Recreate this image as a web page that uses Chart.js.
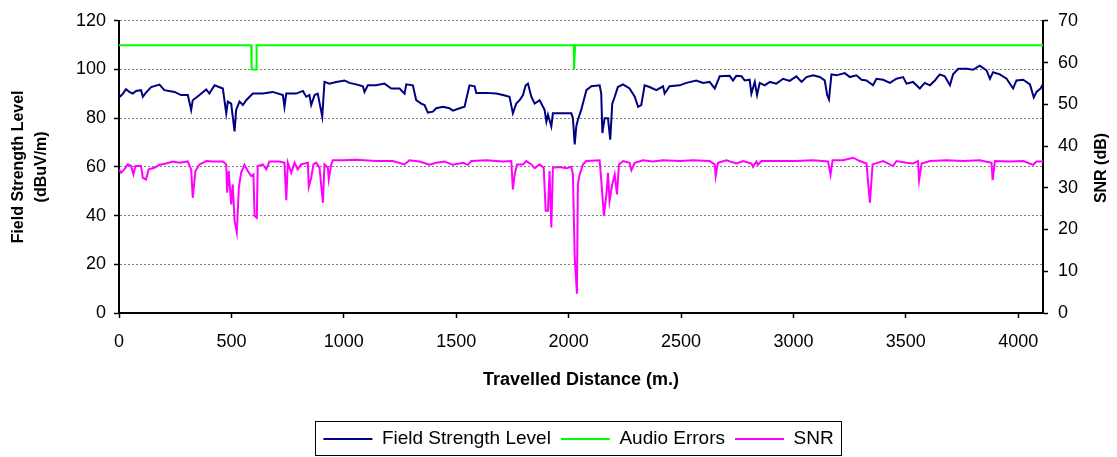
<!DOCTYPE html>
<html>
<head>
<meta charset="utf-8">
<script src="https://cdn.jsdelivr.net/npm/chart.js@4/dist/chart.umd.min.js"></script>
<style>
  html, body { margin: 0; padding: 0; background: #fff; }
</style>
</head>
<body>
<canvas id="myChart" width="1117" height="457"></canvas>
<script>
// distances in metres
var fsDist = [0, 17, 31, 46, 61, 76, 98, 106, 120, 143, 180, 202, 247, 276, 306, 321, 328, 358, 388, 402,
  425, 462, 477, 484, 499, 514, 521, 536, 551, 566, 595, 640, 684, 729, 736, 744, 788, 818, 833, 847,
  855, 870, 884, 904, 914, 936, 966, 1003, 1025, 1055, 1085, 1092, 1107, 1144, 1181, 1211, 1248, 1270, 1278, 1307,
  1322, 1344, 1359, 1374, 1396, 1411, 1441, 1470, 1485, 1515, 1537, 1559, 1582, 1589, 1634, 1678, 1708, 1737, 1752, 1767,
  1782, 1797, 1809, 1819, 1834, 1849, 1871, 1893, 1901, 1908, 1923, 1930, 1960, 2012, 2019, 2027, 2034, 2041, 2056, 2079,
  2101, 2138, 2145, 2150, 2160, 2175, 2185, 2194, 2205, 2219, 2242, 2271, 2294, 2309, 2323, 2338, 2360, 2390, 2420, 2427,
  2449, 2494, 2524, 2568, 2598, 2627, 2650, 2672, 2716, 2731, 2746, 2769, 2783, 2805, 2813, 2828, 2838, 2850, 2872, 2895,
  2924, 2954, 2983, 3013, 3036, 3058, 3087, 3117, 3139, 3150, 3158, 3169, 3191, 3228, 3251, 3280, 3303, 3325, 3354, 3369,
  3399, 3429, 3458, 3488, 3503, 3532, 3562, 3584, 3607, 3629, 3651, 3673, 3696, 3710, 3733, 3770, 3799, 3829, 3859, 3874,
  3888, 3918, 3948, 3977, 3992, 4022, 4052, 4069, 4081, 4099, 4110];
var fsLevel = [88.5, 90, 91.9, 90.8, 90.1, 91.2, 91.5, 88.8, 90.5, 92.8, 93.8, 91.5, 90.8, 89.5, 89.5, 83.4, 87.4, 89.5, 91.8, 90.1,
  93.5, 92.2, 82, 86.8, 86, 74.6, 83.4, 86.8, 85.4, 87.4, 90.1, 90.1, 90.8, 89.5, 84.7, 90.1, 90.1, 91.2, 88.8, 89.5,
  85.4, 89.5, 90.1, 80.7, 94.9, 94.2, 94.9, 95.5, 94.5, 93.9, 93.1, 90.8, 93.5, 93.5, 94.2, 92.2, 92.2, 90.1, 93.9, 93.5,
  87.4, 86, 85.4, 82.3, 82.7, 84.1, 84.7, 84.1, 83.1, 84.1, 84.7, 93.5, 93.1, 90.4, 90.4, 90.1, 89.5, 88.8, 82, 86,
  87.4, 89.5, 93.5, 94.2, 88.8, 86, 87.4, 83.4, 78.6, 81.4, 76.6, 82, 82, 82, 80, 69.2, 76.6, 79.3, 83.4, 91.5,
  93.1, 93.5, 90.1, 73.9, 80, 80, 71.2, 86, 88.8, 92.8, 93.9, 92.2, 88.8, 84.7, 85.4, 93.5, 92.8, 91.5, 93.1, 90.1,
  93.1, 93.5, 94.5, 95.5, 94.5, 94.9, 92.2, 97.2, 97.4, 95.5, 97.4, 97.2, 95.5, 95.8, 90.1, 94.9, 89.5, 94.5, 93.5, 94.9,
  94.2, 96.2, 95.3, 97.2, 94.9, 96.9, 97.6, 96.9, 95.5, 89.5, 87.7, 98, 97.6, 98.5, 96.9, 97.6, 95.8, 95.5, 93.5, 96.2,
  95.8, 94.5, 96.2, 96.9, 94.2, 94.9, 92.2, 94.5, 93.5, 95.5, 98, 97.2, 93.5, 98, 100.3, 100.3, 99.9, 101.6, 99.6, 96.2,
  98.9, 98, 96.2, 92.2, 95.5, 95.8, 93.9, 88.5, 90.8, 92.2, 93.9];

var audioDist = [0, 588, 590, 610, 612, 2023, 2024, 2028, 2029, 4110];
var audioErr = [110, 110, 100, 100, 110, 110, 100, 100, 110, 110];

var snrDist = [0, 9, 24, 39, 54, 64, 73, 98, 106, 120, 132, 158, 180, 210, 239, 269, 306, 321, 328, 340,
  358, 388, 417, 462, 477, 481, 488, 499, 506, 514, 524, 533, 543, 558, 573, 588, 598, 603, 613, 617,
  640, 655, 669, 714, 736, 744, 751, 766, 781, 795, 810, 840, 844, 855, 865, 877, 892, 907, 914, 929,
  933, 944, 951, 996, 1055, 1144, 1218, 1270, 1292, 1337, 1381, 1411, 1448, 1485, 1530, 1552, 1567, 1634, 1708, 1745,
  1752, 1760, 1770, 1797, 1812, 1834, 1849, 1871, 1889, 1898, 1908, 1915, 1923, 1930, 1960, 1990, 2012, 2019, 2027, 2037,
  2041, 2049, 2064, 2079, 2138, 2150, 2157, 2168, 2175, 2182, 2194, 2205, 2215, 2224, 2242, 2271, 2279, 2294, 2331, 2375,
  2420, 2494, 2553, 2627, 2650, 2654, 2664, 2702, 2746, 2776, 2813, 2820, 2835, 2842, 2858, 2939, 3013, 3087, 3154, 3165,
  3174, 3221, 3265, 3295, 3325, 3340, 3352, 3399, 3443, 3458, 3503, 3532, 3554, 3559, 3570, 3607, 3681, 3755, 3829, 3881,
  3886, 3896, 3963, 4022, 4066, 4081, 4110];
var snrValue = [34.4, 33.6, 34.4, 35.6, 35.2, 33.2, 35.2, 35.2, 32.4, 32.0, 34.4, 34.8, 35.5, 35.8, 36.3, 36.0, 36.3, 34.4, 27.6, 34.0,
  35.6, 36.4, 36.3, 36.3, 35.6, 28.8, 34.0, 26.0, 30.8, 22.1, 19.3, 30.0, 33.6, 35.5, 34.0, 32.8, 33.2, 23.3, 22.8, 35.2,
  35.6, 34.4, 36.3, 36.3, 36.0, 27.0, 36.0, 33.6, 36.0, 34.4, 35.6, 36.0, 30.2, 32.4, 35.6, 36.0, 34.8, 26.4, 35.6, 34.8,
  32.0, 35.6, 36.6, 36.6, 36.7, 36.4, 36.4, 35.6, 36.6, 36.3, 35.5, 36.0, 36.3, 35.5, 36.0, 35.5, 36.4, 36.6, 36.3, 36.4,
  29.6, 33.2, 35.6, 35.6, 36.4, 35.6, 34.7, 35.6, 34.8, 24.5, 24.5, 34.0, 20.5, 34.8, 35.0, 34.7, 35.0, 33.2, 13.3, 4.6,
  30.8, 33.2, 35.6, 36.4, 36.6, 28.4, 23.3, 28.4, 33.6, 26.8, 30.8, 33.2, 28.4, 35.6, 36.4, 36.0, 34.2, 36.0, 36.6, 36.3,
  36.6, 36.4, 36.6, 36.4, 35.6, 32.8, 36.0, 36.6, 35.8, 36.4, 35.8, 35.0, 36.3, 35.5, 36.4, 36.4, 36.4, 36.6, 36.3, 33.1,
  36.6, 36.6, 37.2, 36.4, 35.8, 26.4, 35.6, 36.4, 35.2, 36.4, 36.0, 35.8, 36.4, 31.8, 35.8, 36.4, 36.6, 36.4, 36.6, 36.0,
  31.8, 36.4, 36.3, 36.4, 35.5, 36.3, 36.3];

var xTicks = [0, 500, 1000, 1500, 2000, 2500, 3000, 3500, 4000];

function toPoints(xs, ys) {
  return xs.map(function (x, i) { return { x: x, y: ys[i] }; });
}

Chart.defaults.font.family = "'Liberation Sans', Arial, sans-serif";
Chart.defaults.font.size = 18;
Chart.defaults.color = '#000';

var LEGEND_DX = 20, LEGEND_DY = 1.5;

// move the legend a bit and frame it like the original
var legendFrame = {
  id: 'legendFrame',
  afterLayout: function (chart) {
    var lg = chart.legend;
    lg.left += LEGEND_DX; lg.right += LEGEND_DX;
    lg.top += LEGEND_DY; lg.bottom += LEGEND_DY;
  },
  afterDraw: function (chart) {
    var hb = chart.legend.legendHitBoxes;
    if (!hb || !hb.length) return;
    var first = hb[0], last = hb[hb.length - 1];
    // hit boxes already follow the moved legend
    var x0 = first.left - 8;
    var x1 = last.left + last.width + 8;
    var cy = first.top + first.height / 2;
    var c = chart.ctx;
    c.save();
    c.strokeStyle = '#000';
    c.lineWidth = 1;
    c.strokeRect(Math.round(x0) + 0.5, Math.round(cy - 18) + 0.5, Math.round(x1 - x0), 34);
    c.restore();
  }
};

// right axis title reads bottom to top
var snrTitle = {
  id: 'snrTitle',
  afterDraw: function (chart) {
    var c = chart.ctx;
    c.save();
    c.translate(1102, 168);
    c.rotate(-Math.PI / 2);
    c.font = "bold 16px 'Liberation Sans', Arial, sans-serif";
    c.fillStyle = '#000';
    c.textAlign = 'center';
    c.textBaseline = 'middle';
    c.fillText('SNR (dB)', 0, 0);
    c.restore();
  }
};

var ctx = document.getElementById('myChart');
var myChart = new Chart(ctx, {
  type: 'line',
  data: {
    datasets: [{
      label: 'Field Strength Level',
      data: toPoints(fsDist, fsLevel),
      borderColor: '#000080',
      backgroundColor: '#000080',
      borderWidth: 2,
      yAxisID: 'y'
    }, {
      label: 'Audio Errors',
      data: toPoints(audioDist, audioErr),
      borderColor: '#00FF00',
      backgroundColor: '#00FF00',
      borderWidth: 2,
      yAxisID: 'y'
    }, {
      label: 'SNR',
      data: toPoints(snrDist, snrValue),
      borderColor: '#FF00FF',
      backgroundColor: '#FF00FF',
      borderWidth: 2,
      yAxisID: 'y1'
    }]
  },
  options: {
    responsive: false,
    animation: false,
    devicePixelRatio: 1,
    layout: { padding: { top: 20, left: 0, right: 0, bottom: 0 } },
    elements: { point: { radius: 0 }, line: { tension: 0 } },
    plugins: {
      tooltip: { enabled: false },
      legend: {
        position: 'bottom',
        labels: {
          usePointStyle: true,
          pointStyle: 'line',
          pointStyleWidth: 49,
          padding: 10,
          font: { size: 19 },
          color: '#000'
        }
      }
    },
    scales: {
      x: {
        type: 'linear',
        min: 0,
        max: 4110,
        ticks: {
          stepSize: 500, padding: 13, maxRotation: 0,
          callback: function (v) { return String(v); }
        },
        afterBuildTicks: function (s) {
          s.ticks = xTicks.map(function (v) { return { value: v }; });
        },
        afterFit: function (s) { s.height = 105; },
        grid: { drawOnChartArea: false, tickLength: 5, tickColor: '#000', tickWidth: 1.5 },
        border: { color: '#000', width: 2 },
        title: {
          display: true,
          text: 'Travelled Distance (m.)',
          font: { size: 18, weight: 'bold' },
          padding: { top: 0, bottom: 27 }
        }
      },
      y: {
        position: 'left',
        min: 0,
        max: 120,
        ticks: { stepSize: 20, padding: 8 },
        afterFit: function (s) { s.width = 119; },
        grid: { color: '#808080', lineWidth: 1, tickLength: 5, tickColor: '#000', tickWidth: 1.5 },
        border: { color: '#000', width: 2, dash: [2, 2] },
        title: {
          display: true,
          text: ['Field Strength Level', '(dBuV/m)'],
          font: { size: 16, weight: 'bold', lineHeight: 1.44 },
          padding: { top: 7.5, bottom: 0 }
        }
      },
      y1: {
        position: 'right',
        min: 0,
        max: 70,
        ticks: { stepSize: 10, padding: 10 },
        afterFit: function (s) { s.width = 74; },
        grid: { drawOnChartArea: false, tickLength: 5, tickColor: '#000', tickWidth: 1.5 },
        border: { color: '#000', width: 2 }
      }
    }
  },
  plugins: [legendFrame, snrTitle]
});
</script>
</body>
</html>
